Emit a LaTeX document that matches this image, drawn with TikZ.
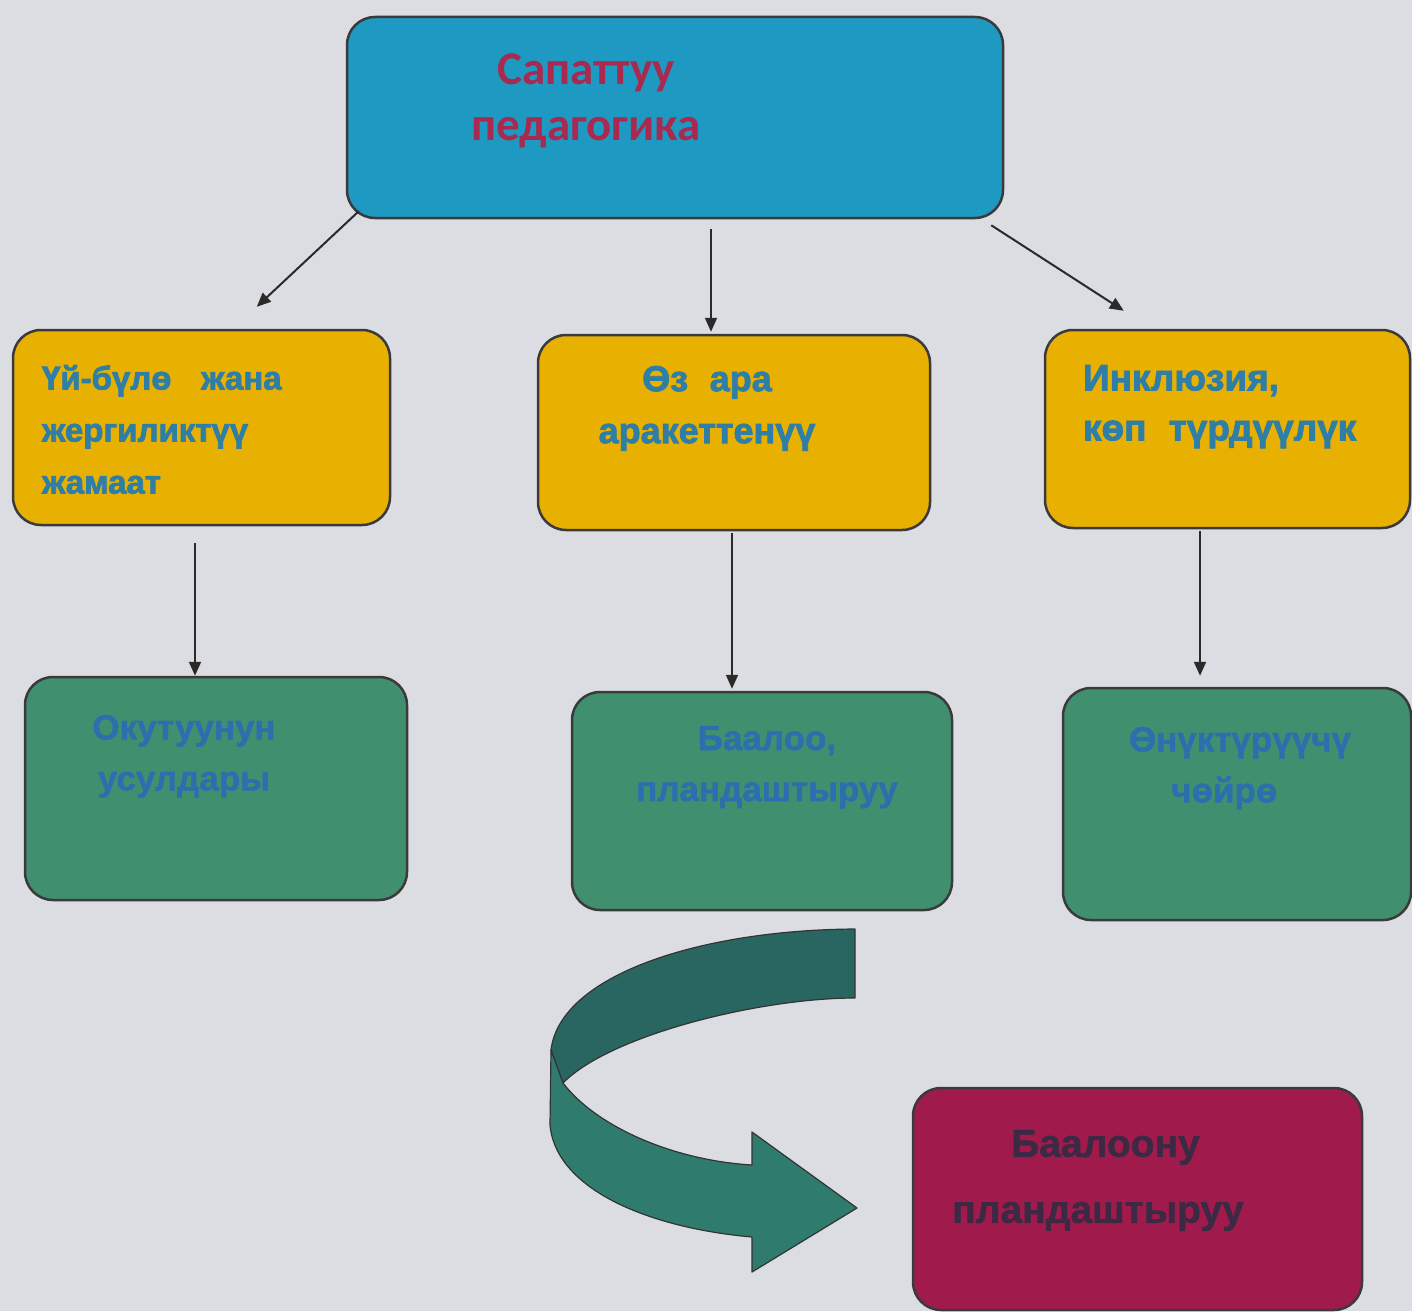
\documentclass[tikz,border=0pt]{standalone}
\usepackage{fontspec}
\setmainfont{Liberation Sans}[BoldFeatures={FakeBold=1.2}]
\newfontfamily\topfont{Carlito}
\newfontfamily\heavyfont{Liberation Sans}[BoldFeatures={FakeBold=2.2}]
\usetikzlibrary{arrows.meta}
\definecolor{bg}{HTML}{DCDDE2}
\definecolor{boxline}{HTML}{3A3A3C}
\definecolor{topfill}{HTML}{1E9AC2}
\definecolor{toptext}{HTML}{A82A50}
\definecolor{yelfill}{HTML}{E8B000}
\definecolor{yeltext}{HTML}{2E7EA6}
\definecolor{grnfill}{HTML}{40906F}
\definecolor{grntext}{HTML}{2B6FAF}
\definecolor{magfill}{HTML}{A01A4C}
\definecolor{magtext}{HTML}{3C2A45}
\definecolor{ribdark}{HTML}{2A6661}
\definecolor{riblight}{HTML}{2F7C6F}
\definecolor{arrline}{HTML}{2A2A2A}
\begin{document}
\begin{tikzpicture}[x=1pt,y=-1pt,
  box/.style n args={2}{draw=boxline, line width=2.5pt, rounded corners=28pt,
    minimum width=#1pt, minimum height=#2pt, inner sep=0pt},
  txt/.style={inner sep=0pt, outer sep=0pt},
  ytxt/.style={txt, text=yeltext, font=\heavyfont\bfseries\fontsize{33}{52}\selectfont},
  gtxt/.style={txt, text=grntext, font=\bfseries\fontsize{35}{51}\selectfont},
  conn/.style={draw=arrline, line width=2pt, -{Triangle[length=14pt,width=12pt]}}]
\useasboundingbox (0,0) rectangle (1412,1311);
\fill[bg] (0,0) rectangle (1412,1311);

% top box
\node[box={656}{201}, fill=topfill] (top) at (675,117.5) {};
\node[txt, anchor=north, align=center, text=toptext,
  font=\topfont\bfseries\fontsize{47}{56}\selectfont] (topt) at (586,54) {Сапаттуу\\педагогика};

% yellow boxes
\node[box={377}{195}, fill=yelfill] (y1) at (201.5,427.5) {};
\node[box={392}{195}, fill=yelfill] (y2) at (734,432.5) {};
\node[box={365}{198}, fill=yelfill] (y3) at (1227.5,429) {};
\node[ytxt, anchor=north west, align=left] (y1t) at (42,365) {Үй-бүлө\hspace{0.9em}жана\\жергиликтүү\\жамаат};
\node[ytxt, anchor=north, align=center, font=\heavyfont\bfseries\fontsize{36}{52}\selectfont] (y2t) at (707,366) {Өз\hspace{0.6em}ара\\аракеттенүү};
\node[ytxt, anchor=north west, align=left, font=\heavyfont\bfseries\fontsize{37}{50}\selectfont] (y3t) at (1083,365) {Инклюзия,\\көп\hspace{0.6em}түрдүүлүк};

% green boxes
\node[box={382}{223}, fill=grnfill] (g1) at (216,788.5) {};
\node[box={380}{218}, fill=grnfill] (g2) at (762,801) {};
\node[box={348}{232}, fill=grnfill] (g3) at (1237,804) {};
\node[gtxt, anchor=north, align=center] (g1t) at (184,715) {Окутуунун\\усулдары};
\node[gtxt, anchor=north, align=center] (g2t) at (767,726) {Баалоо,\\пландаштыруу};
\node[gtxt, anchor=north, align=center] (g3t) at (1240,727) {Өнүктүрүүчү\\\hspace{-0.9em}чөйрө};

% magenta box
\node[box={449}{222}, fill=magfill] (m) at (1137.5,1199) {};
\node[txt, anchor=north, align=center, text=magtext,
  font=\bfseries\fontsize{39}{66}\selectfont] (mt) at (1098,1130) {\hspace{15pt}Баалоону\\пландаштыруу};

% connectors
\draw[conn] ([xshift=13pt,yshift=8pt]top.south west) -- ([xshift=245pt,yshift=22pt]y1.north west);
\draw[conn] ([xshift=36pt,yshift=-10pt]top.south) -- ([xshift=-23pt,yshift=2pt]y2.north);
\draw[conn] ([xshift=-13pt,yshift=-6pt]top.south east) -- ([xshift=80pt,yshift=18pt]y3.north west);
\draw[conn] ([xshift=-6.5pt,yshift=-17pt]y1.south) -- ([xshift=-21pt]g1.north);
\draw[conn] ([xshift=-2pt,yshift=-2pt]y2.south) -- ([xshift=-30pt,yshift=2pt]g2.north);
\draw[conn] ([xshift=-27.5pt,yshift=-2pt]y3.south) -- ([xshift=-37pt,yshift=11pt]g3.north);

% curved ribbon arrow
\filldraw[fill=ribdark, draw=black!80, line width=1.2pt, line join=round]
  (855,929) .. controls (700,930) and (560,975) .. (551,1050)
  -- (563,1083) .. controls (610,1035) and (760,998) .. (855,998) -- cycle;
\filldraw[fill=riblight, draw=black!80, line width=1.2pt, line join=round]
  (551,1050) -- (563,1083) .. controls (595,1125) and (670,1160) .. (752,1165)
  -- (752,1132) -- (857,1208) -- (752,1272) -- (752,1237)
  .. controls (650,1228) and (556,1190) .. (550,1125) -- cycle;
\end{tikzpicture}
\end{document}
